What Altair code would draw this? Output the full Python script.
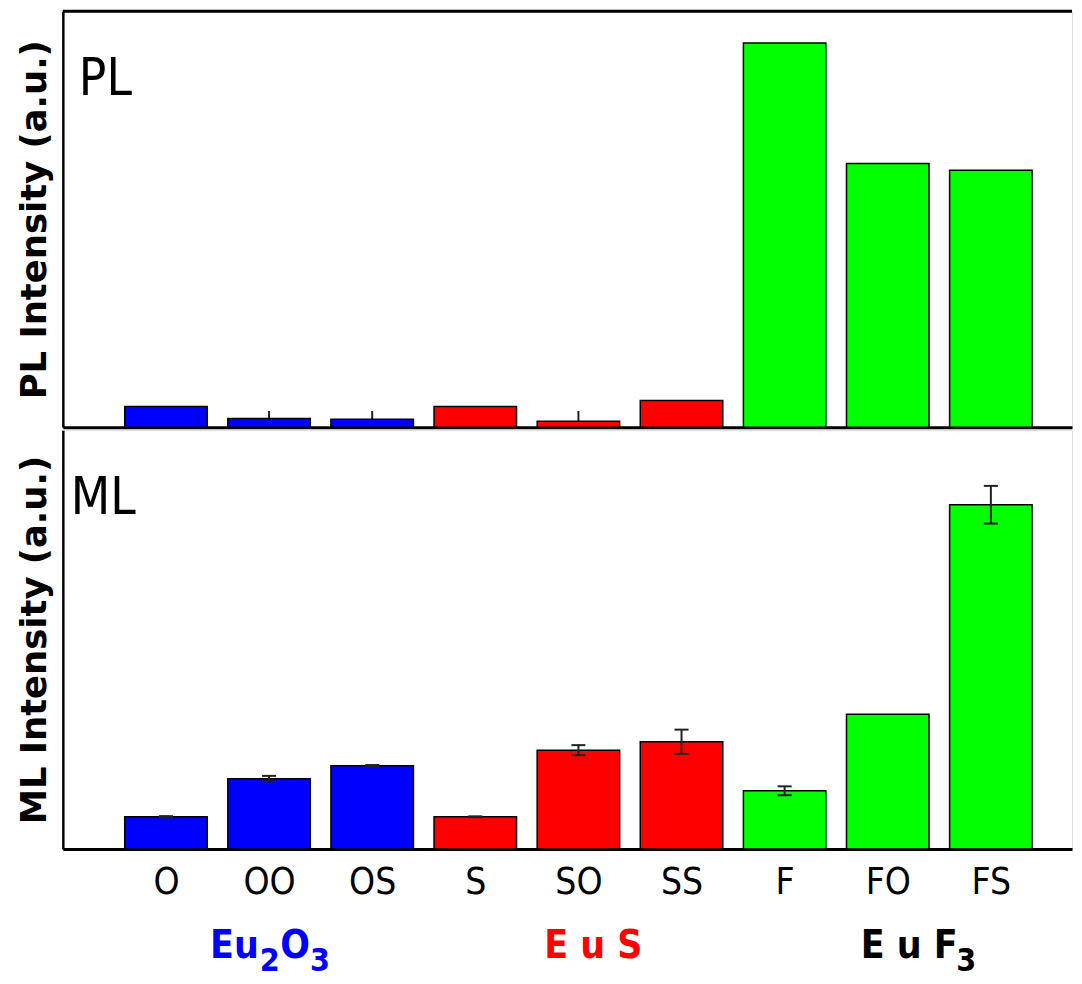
import json
import altair as alt
import pandas as pd

# ---- data ----
categories = ["O", "OO", "OS", "S", "SO", "SS", "F", "FO", "FS"]
groups = ["Eu2O3", "Eu2O3", "Eu2O3", "EuS", "EuS", "EuS", "EuF3", "EuF3", "EuF3"]
pl_values = [5.0, 2.1, 1.9, 5.0, 1.4, 6.4, 92.4, 63.4, 61.8]
pl_errors = [0.0, 1.8, 2.0, 0.0, 2.5, 0.0, 0.0, 0.0, 0.0]
ml_values = [7.7, 16.8, 19.9, 7.7, 23.6, 25.6, 13.9, 32.2, 82.2]
ml_errors = [0.15, 0.66, 0.15, 0.1, 1.2, 2.9, 1.06, 0.0, 4.5]

group_names = ["Eu2O3", "EuS", "EuF3"]
group_colors = ["#0000FF", "#FF0000", "#00FF00"]

# group labels under the axis (text pieces; subscripts separate)
label_parts = ["Eu", "2", "O", "3", "E u S", "E u F", "3"]
label_colors = ["#0000FF", "#0000FF", "#0000FF", "#0000FF", "#FF0000", "#000000", "#000000"]
label_is_sub = [False, True, False, True, False, False, True]
label_align = ["left", "left", "left", "left", "center", "left", "left"]
label_anchor = [1.427, 1.910, 2.108, 2.398, 5.145, 7.737, 8.665]

NARROW = "DejaVu Sans Condensed, Liberation Sans Narrow, sans-serif"

df = pd.DataFrame({
    "idx": list(range(1, len(categories) + 1)),
    "cat": categories,
    "group": groups,
    "pl": pl_values,
    "pl_err": pl_errors,
    "ml": ml_values,
    "ml_err": ml_errors,
})

labels_df = pd.DataFrame({
    "text": label_parts,
    "color": label_colors,
    "sub": label_is_sub,
    "align": label_align,
    "pos": label_anchor,
})

W = 1012
XD = 9.787
H_TOP = 417
H_BOT = 420

xscale = alt.Scale(domain=[0, XD], nice=False, zero=False)
yscale = alt.Scale(domain=[0, 100], nice=False, zero=True)
colorscale = alt.Scale(domain=group_names, range=group_colors)


def yaxis(title):
    return alt.Axis(title=title, titleFont="DejaVu Sans", titleFontWeight="bold",
                    titleFontSize=35.5, titleColor="black", titlePadding=10,
                    labels=False, ticks=False, grid=False,
                    domainColor="black", domainWidth=2.5)


line_axis_bottom = alt.Axis(orient="bottom", labels=False, ticks=False, grid=False,
                            title=None, domainColor="black", domainWidth=3)
label_axis_bottom = alt.Axis(orient="bottom", values=list(range(1, len(categories) + 1)),
                             labelExpr=json.dumps(categories) + "[datum.value - 1]",
                             labelFont=NARROW, labelFontSize=37, labelColor="black",
                             labelPadding=16, ticks=False, tickSize=0, grid=False,
                             title=None, domainColor="black", domainWidth=3,
                             labelOverlap=False, labelFlush=False)


def bars(valcol, title, xaxis):
    return alt.Chart(df).transform_calculate(
        lo="datum.idx - 0.4", hi="datum.idx + 0.4", base="0"
    ).mark_bar(stroke="black", strokeWidth=1.5).encode(
        x=alt.X("lo:Q", scale=xscale, axis=xaxis),
        x2="hi:Q",
        y=alt.Y(f"{valcol}:Q", scale=yscale, axis=yaxis(title)),
        y2="base:Q",
        color=alt.Color("group:N", scale=colorscale, legend=None),
    )


def err_lines(valcol, errcol, title, xaxis):
    return alt.Chart(df).transform_filter(f"datum.{errcol} > 0").transform_calculate(
        elo=f"max(0, datum.{valcol} - datum.{errcol})",
        ehi=f"datum.{valcol} + datum.{errcol}",
    ).mark_rule(color="#222222", strokeWidth=2).encode(
        x=alt.X("idx:Q", scale=xscale, axis=xaxis),
        y=alt.Y("ehi:Q", scale=yscale, axis=yaxis(title)),
        y2="elo:Q",
    )


def err_caps(valcol, errcol, title, xaxis):
    return alt.Chart(df).transform_filter(f"datum.{errcol} > 0").transform_calculate(
        elo=f"datum.{valcol} - datum.{errcol}",
        ehi=f"datum.{valcol} + datum.{errcol}",
        cl="datum.idx - 0.068",
        cr="datum.idx + 0.068",
    ).transform_fold(["elo", "ehi"], as_=["end", "yv"]).mark_rule(
        color="#222222", strokeWidth=2
    ).encode(
        x=alt.X("cl:Q", scale=xscale, axis=xaxis),
        x2="cr:Q",
        y=alt.Y("yv:Q", scale=yscale, axis=yaxis(title)),
    )


def tag(text, px, py, title, xaxis):
    return alt.Chart(pd.DataFrame({"t": [text], "x": [px], "y": [py]})).mark_text(
        align="left", baseline="alphabetic", font=NARROW, fontSize=51, color="black"
    ).encode(
        x=alt.X("x:Q", scale=xscale, axis=xaxis),
        y=alt.Y("y:Q", scale=yscale, axis=yaxis(title)),
        text="t:N",
    )


# top frame line of the upper panel
top_frame = alt.Chart(pd.DataFrame({"k": [0]})).mark_rule(
    color="black", strokeWidth=3
).encode(x=alt.value(0), x2=alt.value(W), y=alt.value(0))

PL_T = "PL Intensity (a.u.)"
ML_T = "ML Intensity (a.u.)"

top = alt.layer(
    err_lines("pl", "pl_err", PL_T, line_axis_bottom),
    bars("pl", PL_T, line_axis_bottom),
    tag("PL", 0.155, 79.8, PL_T, line_axis_bottom),
    top_frame,
).properties(width=W, height=H_TOP)


def group_layer(sub, align):
    if sub:
        flt = "datum.sub"
    else:
        flt = f"!datum.sub && datum.align == '{align}'"
    return alt.Chart(labels_df).transform_filter(flt).mark_text(
        align=align, baseline="alphabetic", font=NARROW,
        fontSize=32 if sub else 39, fontWeight="bold"
    ).encode(
        x=alt.X("pos:Q", scale=xscale, axis=label_axis_bottom),
        y=alt.value(H_BOT + (122 if sub else 109)),
        text="text:N",
        color=alt.Color("color:N", scale=None),
    )


bottom = alt.layer(
    bars("ml", ML_T, label_axis_bottom),
    err_lines("ml", "ml_err", ML_T, label_axis_bottom),
    err_caps("ml", "ml_err", ML_T, label_axis_bottom),
    tag("ML", 0.077, 80.1, ML_T, label_axis_bottom),
    group_layer(False, "left"),
    group_layer(False, "center"),
    group_layer(True, "left"),
).properties(width=W, height=H_BOT)

chart = alt.vconcat(top, bottom, spacing=0).properties(
    padding={"left": 9, "top": 0, "right": 0, "bottom": 0}
).configure_view(strokeWidth=0, stroke="transparent").configure(background="white")

chart.save("out.html", embed_options={"renderer": "svg", "actions": False})
